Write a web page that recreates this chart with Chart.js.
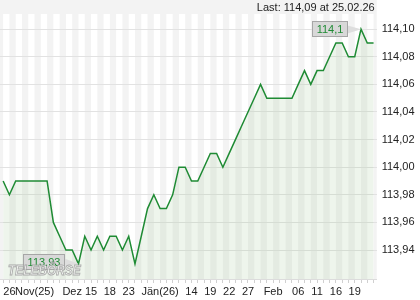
<!DOCTYPE html>
<html>
<head>
<meta charset="utf-8">
<script src="https://cdn.jsdelivr.net/npm/chart.js@4"></script>
<style>
html,body{margin:0;padding:0;background:#fff;}
canvas{display:block;}
</style>
</head>
<body>
<canvas id="c" width="420" height="300"></canvas>
<script>
// ---- data ----
const xLabels = [
  "", "26", "", "", "", "Nov(25)", "", "", "", "", "",
  "Dez", "", "", "15", "", "", "18", "", "", "23", "", "", "", "",
  "Jän(26)", "", "", "", "", "14", "", "", "19", "", "", "22", "", "", "27", "", "", "", "Feb",
  "", "", "", "06", "", "", "11", "", "", "16", "", "", "19", "", "", ""
];
const values = [
  113.99, 113.98, 113.99, 113.99, 113.99, 113.99, 113.99, 113.99,
  113.96, 113.95, 113.94, 113.94, 113.93, 113.95, 113.94, 113.95,
  113.94, 113.95, 113.95, 113.94, 113.95, 113.93, 113.95, 113.97,
  113.98, 113.97, 113.97, 113.98, 114.00, 114.00, 113.99, 113.99,
  114.00, 114.01, 114.01, 114.00, 114.01, 114.02, 114.03, 114.04,
  114.05, 114.06, 114.05, 114.05, 114.05, 114.05, 114.05, 114.06,
  114.07, 114.06, 114.07, 114.07, 114.08, 114.09, 114.09, 114.08,
  114.08, 114.10, 114.09, 114.09
];
const yTickValues = [113.94, 113.96, 113.98, 114.00, 114.02, 114.04, 114.06, 114.08, 114.10];
const lastValue = "114,09";
const lastDate = "25.02.26";
const watermark = "TELEBÖRSE";

const FONT = "Liberation Sans, Arial, sans-serif";
const GREEN = "#1f8b34";

function fmt2(v){ return v.toFixed(2).replace('.', ','); }
function fmtShort(v){ return String(+v.toFixed(2)).replace('.', ','); }

const decorPlugin = {
  id: 'decor',
  beforeDraw(chart){
    const {ctx, chartArea} = chart;
    const x = chart.scales.x;
    ctx.save();
    ctx.fillStyle = '#ffffff';
    ctx.fillRect(0, 0, chart.width, chart.height);
    // top band
    ctx.fillStyle = '#f3f3f3';
    ctx.fillRect(chartArea.left, 0, chartArea.right - chartArea.left, chartArea.top);
    // stripes
    for (let i = -1; i < values.length; i += 2) {
      let x0 = Math.max(chartArea.left, x.getPixelForValue(i));
      let x1 = Math.min(chartArea.right, x.getPixelForValue(i + 1));
      if (x1 > x0) {
        ctx.fillRect(x0, chartArea.top, x1 - x0, chartArea.bottom - chartArea.top);
      }
    }
    // last text
    ctx.fillStyle = '#222';
    ctx.font = '11px ' + FONT;
    ctx.textAlign = 'right';
    ctx.textBaseline = 'middle';
    ctx.fillText('Last: ' + lastValue + ' at ' + lastDate, chartArea.right - 2, 7.5);
    ctx.restore();
  },
  afterDatasetsDraw(chart){
    const {ctx} = chart;
    const xs = chart.scales.x, ys = chart.scales.y;
    const maxV = Math.max(...values), minV = Math.min(...values);
    const maxI = values.indexOf(maxV), minI = values.indexOf(minV);
    function callout(i, v, dy){
      const px = xs.getPixelForValue(i), py = ys.getPixelForValue(v);
      ctx.save();
      ctx.font = '11px ' + FONT;
      const text = fmtShort(v);
      const tw = ctx.measureText(text).width;
      const bw = Math.round(tw + 8), bh = 15;
      const right = Math.round(px - 14);
      const left = right - bw;
      const cy = Math.round(py + dy);
      const top = cy - 8;
      // pointer
      ctx.fillStyle = '#dedede';
      ctx.beginPath();
      ctx.moveTo(right - 1, cy - 4);
      ctx.lineTo(px, py);
      ctx.lineTo(right - 1, cy + 5);
      ctx.closePath();
      ctx.fill();
      // box
      ctx.fillStyle = '#d8d8d8';
      ctx.fillRect(left + 0.5, top + 0.5, bw, bh);
      ctx.strokeStyle = '#a6a6a6';
      ctx.lineWidth = 1;
      ctx.strokeRect(left + 0.5, top + 0.5, bw, bh);
      ctx.fillStyle = GREEN;
      ctx.textAlign = 'center';
      ctx.textBaseline = 'middle';
      ctx.fillText(text, left + bw / 2 + 0.5, top + bh / 2 + 1);
      ctx.restore();
    }
    callout(maxI, maxV, 0);
    callout(minI, minV, -2);
    // watermark
    ctx.save();
    ctx.font = 'italic bold 14px ' + FONT;
    ctx.textAlign = 'left';
    ctx.textBaseline = 'middle';
    ctx.translate(8, 271);
    ctx.scale(0.85, 1);
    ctx.fillStyle = 'rgba(255,255,255,0.7)';
    ctx.strokeStyle = 'rgba(160,160,160,0.85)';
    ctx.lineWidth = 1;
    ctx.fillText(watermark, 0, 0);
    ctx.strokeText(watermark, 0, 0);
    ctx.restore();
  }
};

new Chart(document.getElementById('c'), {
  type: 'line',
  data: {
    labels: xLabels,
    datasets: [{
      data: values,
      borderColor: GREEN,
      borderWidth: 1.5,
      pointRadius: 0,
      tension: 0,
      fill: 'start',
      backgroundColor: 'rgba(160,200,150,0.18)'
    }]
  },
  options: {
    responsive: false,
    animation: false,
    devicePixelRatio: 1,
    layout: { padding: { top: 14, left: 0, right: 0, bottom: 0 } },
    plugins: { legend: { display: false }, tooltip: { enabled: false } },
    scales: {
      x: {
        type: 'category',
        offset: true,
        grid: { drawOnChartArea: false, drawTicks: true, tickLength: 4, color: '#d0d0d0' },
        border: { display: true, color: '#dcdcdc' },
        ticks: { autoSkip: false, maxRotation: 0, minRotation: 0, padding: 2,
                 color: '#222', font: { family: FONT, size: 11 } },
        afterFit(s){ s.height = 21; }
      },
      y: {
        position: 'right',
        min: 113.919,
        max: 114.111,
        grid: { color: '#e2e2e2', drawTicks: false },
        border: { display: false },
        ticks: { padding: 5, color: '#222', font: { family: FONT, size: 11 },
                 callback: (v) => fmt2(v) },
        afterBuildTicks(s){ s.ticks = yTickValues.map(v => ({ value: v })); },
        afterFit(s){ s.width = 43.3; }
      }
    }
  },
  plugins: [decorPlugin]
});
</script>
</body>
</html>
